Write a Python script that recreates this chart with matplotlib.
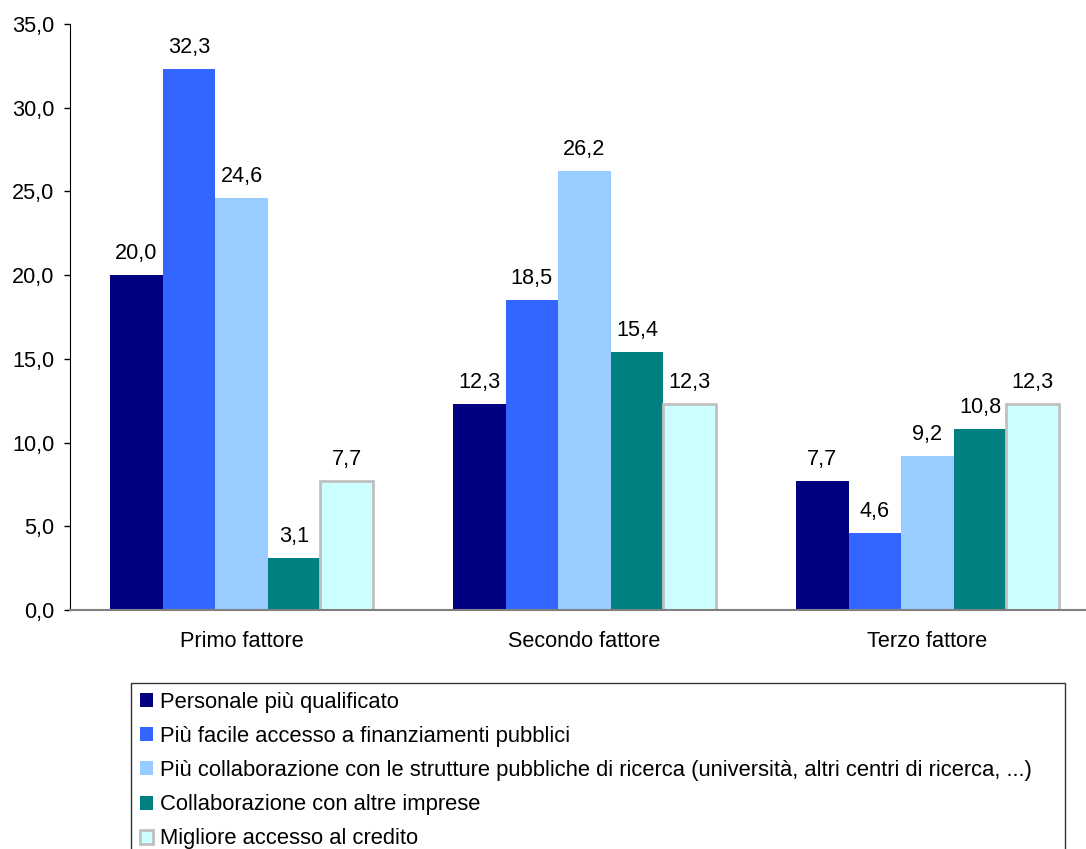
import numpy as np
import matplotlib.pyplot as plt

# dati
categorie = ['Primo fattore', 'Secondo fattore', 'Terzo fattore']
serie = [
    'Personale più qualificato',
    'Più facile accesso a finanziamenti pubblici',
    'Più collaborazione con le strutture pubbliche di ricerca (università, altri centri di ricerca, ...)',
    'Collaborazione con altre imprese',
    'Migliore accesso al credito',
]
personale = [20.0, 12.3, 7.7]
finanziamenti = [32.3, 18.5, 4.6]
collab_ricerca = [24.6, 26.2, 9.2]
collab_imprese = [3.1, 15.4, 10.8]
credito = [7.7, 12.3, 12.3]
valori = [personale, finanziamenti, collab_ricerca, collab_imprese, credito]

colori = ['#000080', '#3366FF', '#99CCFF', '#008080', '#CCFFFF']
bordi = ['none', 'none', 'none', 'none', '#C0C0C0']

plt.rcParams['font.family'] = ['Liberation Sans', 'DejaVu Sans']
plt.rcParams['font.size'] = 15.6

fig = plt.figure(figsize=(10.86, 8.49), dpi=100)
ax = fig.add_axes([70 / 1086, 1 - 610 / 849, 1029 / 1086, 586 / 849])

x = np.arange(len(categorie))
w = 0.1533
for i, (vals, col, ec) in enumerate(zip(valori, colori, bordi)):
    pos = x + (i - 2) * w
    lw = 2 if ec != 'none' else 0
    ax.bar(pos, vals, width=w, color=col, edgecolor=ec, linewidth=lw,
           label=serie[i], zorder=2)
    # etichette sopra le barre
    for xb, v in zip(pos, vals):
        ax.annotate(f'{v:.1f}'.replace('.', ','), (xb, v), xytext=(0, 8),
                    textcoords='offset points', ha='center', va='bottom')

ax.set_xlim(-0.5, 2.5)
ax.set_ylim(0, 35)
yt = np.arange(0, 35.1, 5)
ax.set_yticks(yt)
ax.set_yticklabels([f'{t:.1f}'.replace('.', ',') for t in yt])
ax.set_xticks(x)
ax.set_xticklabels(categorie)
ax.tick_params(axis='x', length=0, pad=15)
ax.tick_params(axis='y', length=4.3, width=1, pad=7)
for s in ['top', 'right']:
    ax.spines[s].set_visible(False)
ax.spines['left'].set_color('black')
ax.spines['bottom'].set_color('#808080')
ax.spines['bottom'].set_linewidth(1.5)

leg = fig.legend(loc='upper left',
                 bbox_to_anchor=(131 / 1086, 0, 934 / 1086, 1 - 683 / 849),
                 mode='expand', ncol=1, frameon=True, fancybox=False,
                 edgecolor='black', handlelength=0.6, handleheight=0.6,
                 handletextpad=0.3, labelspacing=0.6, borderpad=0.4,
                 borderaxespad=0, fontsize=15.8)
leg.get_frame().set_linewidth(1)

fig.savefig('out.png', dpi=100)
